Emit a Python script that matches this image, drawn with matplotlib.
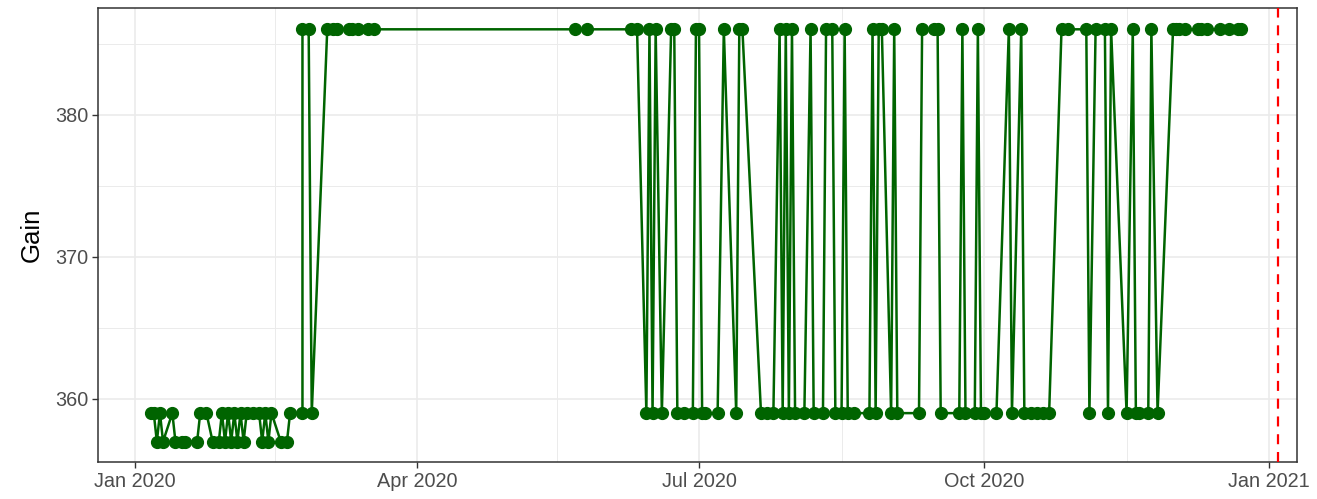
import matplotlib.pyplot as plt
import matplotlib.dates as mdates
import numpy as np

plt.rcParams["font.family"] = ["Liberation Sans", "DejaVu Sans"]

start = np.datetime64("2020-01-01")
cutoff = np.datetime64("2021-01-04")

# days since 2020-01-01 and gain values
days = [5, 6, 7, 8, 9, 12, 13, 15, 16, 20, 21, 23, 25, 27, 28, 29, 30, 31, 32, 33,
        34, 35, 36, 38, 40, 41, 42, 43, 44, 47, 49, 50, 54, 54, 56, 57, 62, 64, 65, 69,
        70, 72, 75, 77, 142, 146, 160, 162,
        165, 166, 167, 168, 170, 173, 174, 175, 177, 180, 181, 182, 183, 184, 188, 190,
        194, 195, 196, 202, 204, 206,
        208, 209, 210, 211, 212, 213, 216, 218, 219, 222, 223, 225, 226, 228, 229, 230,
        232, 237,
        238, 239, 240, 241, 244, 245, 246, 253, 254, 258, 259, 260, 266, 267, 268, 271,
        272, 273, 274, 278, 282, 283, 286, 287, 289, 291, 293, 295,
        299, 301, 307, 308, 310, 313, 314, 315, 320, 322, 323, 324, 327, 328, 330, 335,
        336, 337, 339, 343, 344, 346, 350, 353, 356, 357]
gain = [359, 359, 357, 359, 357, 359, 357, 357, 357, 357, 359, 359, 357, 357, 359, 357, 359, 357, 359, 357,
        359, 357, 359, 359, 359, 357, 359, 357, 359, 357, 357, 359, 359, 386, 386, 359, 386, 386, 386, 386,
        386, 386, 386, 386, 386, 386, 386, 386,
        359, 386, 359, 386, 359, 386, 386, 359, 359, 359, 386, 386, 359, 359, 359, 386,
        359, 386, 386, 359, 359, 359,
        386, 359, 386, 359, 386, 359, 359, 386, 359, 359, 386, 386, 359, 359, 386, 359,
        359, 359,
        386, 359, 386, 386, 359, 386, 359, 359, 386, 386, 386, 359, 359, 386, 359, 359,
        386, 359, 359, 359, 386, 359, 386, 359, 359, 359, 359, 359,
        386, 386, 386, 359, 386, 386, 359, 386, 359, 386, 359, 359, 359, 386, 359, 386,
        386, 386, 386, 386, 386, 386, 386, 386, 386, 386]

major_dates = ["2020-01-01", "2020-04-01", "2020-07-01", "2020-10-01", "2021-01-01"]

dates = start + np.array(days).astype("timedelta64[D]")
majors = np.array(major_dates, dtype="datetime64[D]")
minors = majors[:-1] + (majors[1:] - majors[:-1]) // 2

fig = plt.figure(figsize=(13.17, 4.99), dpi=100)
ax = fig.add_axes([0.0744, 0.0741, 0.9104, 0.9099])

ax.plot(dates, gain, color="#006400", lw=1.8, marker="o", ms=8.5, zorder=3)
ax.axvline(cutoff, color="red", ls=(0, (4.5, 3.5)), lw=1.6, zorder=4)

ax.set_xlim(start - np.timedelta64(12, "D"), start + np.timedelta64(375, "D"))
ax.set_ylim(355.56, 387.5)

ax.set_xticks(majors)
ax.set_xticks(minors, minor=True)
ax.xaxis.set_major_formatter(mdates.DateFormatter("%b %Y"))
ax.set_yticks([360, 370, 380])
ax.set_yticks([365, 375, 385], minor=True)

ax.grid(which="major", color="#EBEBEB", lw=1.2)
ax.grid(which="minor", color="#EBEBEB", lw=0.7)
ax.set_axisbelow(True)

ax.tick_params(which="major", length=4, width=1, color="#333333",
               labelsize=14.3, labelcolor="#4D4D4D", pad=3)
ax.tick_params(which="minor", length=0)
for s in ax.spines.values():
    s.set_color("#333333")
    s.set_linewidth(1.1)

ax.set_ylabel("Gain", fontsize=18.5, labelpad=8)

fig.savefig("out.png", dpi=100)
